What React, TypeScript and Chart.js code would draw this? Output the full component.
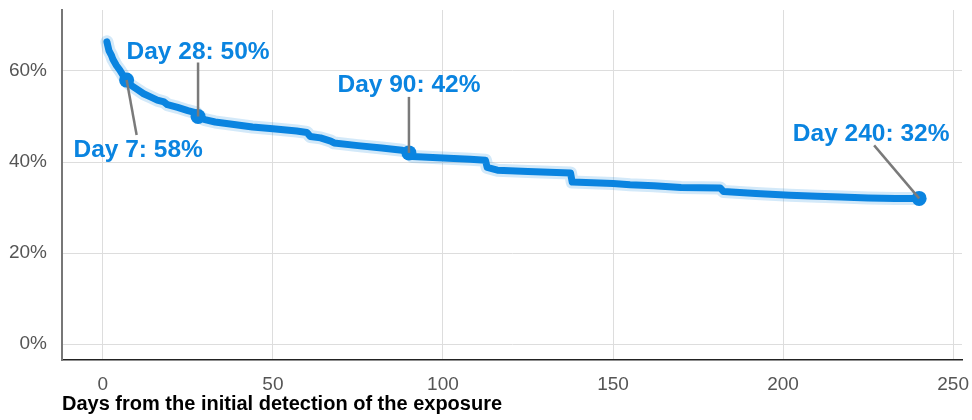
import React, { useEffect, useRef } from 'react';
import { Chart, registerables } from 'chart.js';

Chart.register(...registerables);

// Share of exposures still open, by days since initial detection
const days = [
  1.2, 1.8, 2.5, 3, 4, 5, 6, 7, 8, 10, 12, 14, 16, 18, 19, 22, 25, 27.5, 28, 30, 33, 38, 44, 50, 57, 60, 61,
  64, 67, 68, 75, 82, 88, 90, 91, 100, 108, 112.5, 113, 116, 125, 137.5, 138, 150, 155, 162, 170, 181.5,
  182.5, 192, 202, 210, 217, 225, 233, 240,
];
const openShare = [
  66.4, 64.5, 63.5, 62.5, 61.2, 60.2, 59, 58, 57, 56, 55, 54.3, 53.6, 53.2, 52.6, 52, 51.3, 50.8, 50, 49.3,
  48.8, 48.3, 47.7, 47.3, 46.8, 46.5, 45.6, 45.3, 44.6, 44.2, 43.6, 43.1, 42.6, 42, 41.2, 40.9, 40.6, 40.4,
  38.8, 38.2, 37.9, 37.6, 35.6, 35.3, 35, 34.8, 34.4, 34.3, 33.5, 33.1, 32.7, 32.5, 32.3, 32.1, 32, 32,
];

const markerDays = [7, 28, 90, 240];
const markerValues = [58, 50, 42, 32];
const markerLabels = ['Day 7: 58%', 'Day 28: 50%', 'Day 90: 42%', 'Day 240: 32%'];

const xTicks = [0, 50, 100, 150, 200, 250];
const yTicks = [0, 20, 40, 60];
const xAxisTitle = 'Days from the initial detection of the exposure';

const BLUE = '#0a84e0';
const FONT = "'Liberation Sans', Arial, sans-serif";

// label placement relative to each marker (style only)
const labelStyle = [
  { tx: 11.5, ty: 77, lx: 10, ly: 55 },
  { tx: 0, ty: -58, lx: 0, ly: -54 },
  { tx: 0, ty: -61, lx: 0, ly: -56 },
  { tx: -48, ty: -57.5, lx: -45, ly: -53 },
];

const calloutPlugin = {
  id: 'callouts',
  afterDatasetsDraw(chart: any) {
    const { ctx, scales } = chart;
    const xs = scales.x;
    const ys = scales.y;
    ctx.save();
    markerDays.forEach((d, i) => {
      const px = xs.getPixelForValue(d);
      const py = ys.getPixelForValue(markerValues[i]);
      const s = labelStyle[i];
      ctx.strokeStyle = '#7a7a7a';
      ctx.lineWidth = 2.5;
      ctx.beginPath();
      ctx.moveTo(px, py);
      ctx.lineTo(px + s.lx, py + s.ly);
      ctx.stroke();
      ctx.fillStyle = BLUE;
      ctx.font = `bold 24.5px ${FONT}`;
      ctx.textAlign = 'center';
      ctx.textBaseline = 'alphabetic';
      ctx.fillText(markerLabels[i], px + s.tx, py + s.ty);
    });
    ctx.restore();
  },
};

const noPad = (s: any) => {
  s.paddingTop = 0;
  s.paddingBottom = 0;
  s.paddingLeft = 0;
  s.paddingRight = 0;
};

export default function App() {
  const ref = useRef<HTMLCanvasElement | null>(null);

  useEffect(() => {
    document.body.style.margin = '0';
    const canvas = ref.current;
    if (!canvas) return;
    const line = days.map((d, i) => ({ x: d, y: openShare[i] }));
    const markers = markerDays.map((d, i) => ({ x: d, y: markerValues[i] }));
    const chart = new Chart(canvas, {
      type: 'line',
      data: {
        datasets: [
          {
            data: markers,
            showLine: false,
            pointRadius: 7.5,
            pointBackgroundColor: BLUE,
            pointBorderWidth: 0,
            order: 0,
          },
          {
            data: line,
            borderColor: BLUE,
            borderWidth: 7,
            pointRadius: 0,
            tension: 0,
            borderJoinStyle: 'round',
            borderCapStyle: 'round',
            order: 1,
          },
          {
            data: line,
            borderColor: 'rgba(10,132,224,0.18)',
            borderWidth: 13,
            pointRadius: 0,
            tension: 0,
            borderJoinStyle: 'round',
            borderCapStyle: 'round',
            order: 2,
          },
        ],
      },
      options: {
        responsive: false,
        animation: false,
        devicePixelRatio: 1,
        layout: { padding: { top: 10, right: 10, left: 0, bottom: 0 } },
        plugins: { legend: { display: false }, tooltip: { enabled: false } },
        scales: {
          x: {
            type: 'linear',
            min: -12,
            max: 252.6,
            afterBuildTicks: (s: any) => {
              s.ticks = xTicks.map((v) => ({ value: v }));
            },
            afterFit: (s: any) => {
              s.height = 60;
              noPad(s);
            },
            grid: { color: '#dddddd', lineWidth: 1, drawTicks: false },
            border: { color: '#222222', width: 1.5 },
            ticks: {
              padding: 13,
              color: '#555555',
              font: { family: FONT, size: 19 },
              callback: (v: any) => String(v),
            },
            title: {
              display: true,
              text: xAxisTitle,
              align: 'start',
              color: '#000000',
              font: { family: FONT, size: 20, weight: 'bold' },
              padding: { top: 0, bottom: 4 },
            },
          },
          y: {
            type: 'linear',
            min: -3.5,
            max: 73.4,
            afterBuildTicks: (s: any) => {
              s.ticks = yTicks.map((v) => ({ value: v }));
            },
            afterFit: (s: any) => {
              s.width = 62;
              noPad(s);
            },
            grid: { color: '#dddddd', lineWidth: 1, drawTicks: false },
            border: { color: '#777777', width: 2 },
            ticks: {
              padding: 15,
              color: '#555555',
              font: { family: FONT, size: 19 },
              callback: (v: any) => `${v}%`,
            },
          },
        },
      },
      plugins: [calloutPlugin],
    });
    return () => chart.destroy();
  }, []);

  return <canvas ref={ref} width={972} height={420} style={{ display: 'block', width: 972, height: 420 }} />;
}
